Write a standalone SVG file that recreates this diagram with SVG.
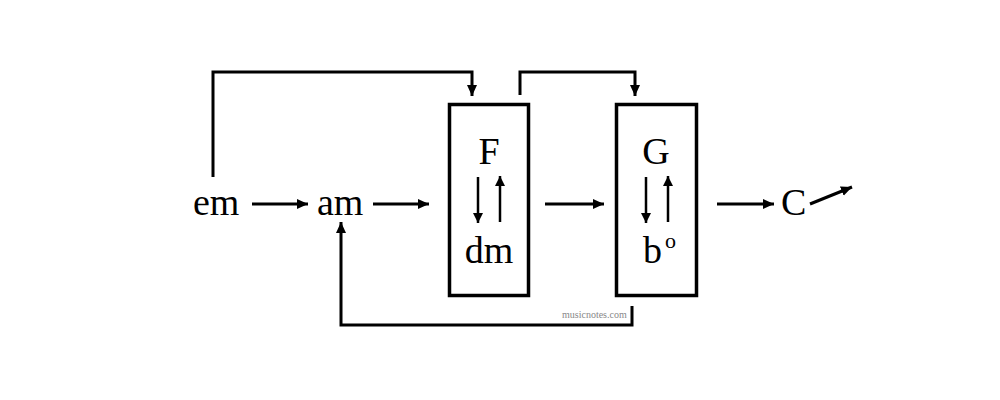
<svg xmlns="http://www.w3.org/2000/svg" width="1000" height="400" viewBox="0 0 1000 400">
<style>
.t{font-family:"Liberation Serif","Times New Roman",serif;font-size:38px;fill:#000}
.c{fill:none;stroke:#000;stroke-width:3}
.i{fill:none;stroke:#000;stroke-width:2.5}
.box{fill:none;stroke:#000;stroke-width:3.5}
.wm{font-family:"Liberation Serif","Times New Roman",serif;font-size:10px;fill:#888}
</style>
<defs>
<marker id="ah" markerUnits="userSpaceOnUse" markerWidth="13" markerHeight="11" refX="11" refY="5" orient="auto">
<path d="M0,0 L11,5 L0,10 z" fill="#000"/>
</marker>
<marker id="ahs" markerUnits="userSpaceOnUse" markerWidth="12" markerHeight="11" refX="10" refY="5" orient="auto">
<path d="M0,0 L10,5 L0,10 z" fill="#000"/>
</marker>
</defs>
<rect width="1000" height="400" fill="#fff"/>
<g id="connectors">
<path class="c" d="M213,177 V72 H472 V96" marker-end="url(#ah)"/>
<path class="c" d="M520,95 V72 H635 V96" marker-end="url(#ah)"/>
<path class="c" d="M632,306 V325 H341 V222" marker-end="url(#ah)"/>
<path class="c" d="M252,204 H308" marker-end="url(#ah)"/>
<path class="c" d="M373,204 H429" marker-end="url(#ah)"/>
<path class="c" d="M545,204 H604" marker-end="url(#ah)"/>
<path class="c" d="M717,204 H774" marker-end="url(#ah)"/>
<path class="c" d="M810,204 L852,187" marker-end="url(#ah)"/>
</g>
<g id="em"><text class="t" x="193" y="215">em</text></g>
<g id="am"><text class="t" x="317" y="215">am</text></g>
<g id="boxF">
<rect class="box" x="449.5" y="104.5" width="79" height="191"/>
<text class="t" x="489" y="164" text-anchor="middle">F</text>
<path class="i" d="M478,177 V223" marker-end="url(#ahs)"/>
<path class="i" d="M500,222 V176" marker-end="url(#ahs)"/>
<text class="t" x="489" y="263" text-anchor="middle">dm</text>
</g>
<g id="boxG">
<rect class="box" x="616.5" y="104.5" width="80" height="191"/>
<text class="t" x="656" y="164" text-anchor="middle">G</text>
<path class="i" d="M646,177 V223" marker-end="url(#ahs)"/>
<path class="i" d="M668,222 V176" marker-end="url(#ahs)"/>
<text class="t" x="643" y="263">b</text>
<text class="t" x="665" y="248" style="font-size:22px">o</text>
</g>
<g id="C"><text class="t" x="781" y="215">C</text></g>
<text class="wm" x="562" y="318">musicnotes.com</text>
</svg>
